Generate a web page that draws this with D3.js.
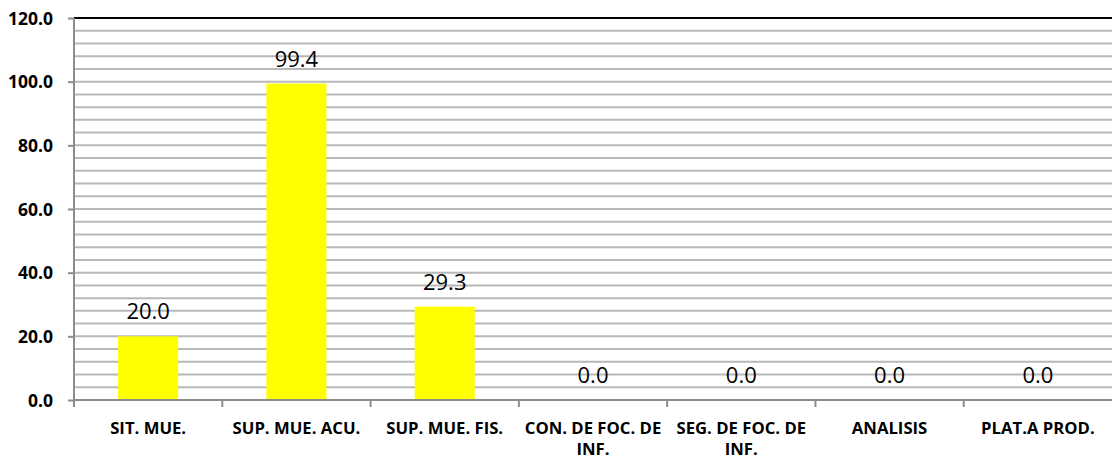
<!DOCTYPE html>
<html><head><meta charset="utf-8">
<script src="https://cdn.jsdelivr.net/npm/d3@7"></script>
<style>body{margin:0;background:#fff;}svg{display:block;}</style>
</head><body>
<script>
const categories = ["SIT. MUE.","SUP. MUE. ACU.","SUP. MUE. FIS.","CON. DE FOC. DE INF.","SEG. DE FOC. DE INF.","ANALISIS","PLAT.A PROD."];
const values = [20.0, 99.4, 29.3, 0.0, 0.0, 0.0, 0.0];
const yTicks = [0,20,40,60,80,100,120];

const W=1112,H=459;
const m={l:74,r:0,t:18,b:59};
const svg=d3.select("body").append("svg").attr("width",W).attr("height",H);
const x=d3.scaleBand().domain(categories).range([m.l,W-m.r]).paddingInner(0).paddingOuter(0);
const y=d3.scaleLinear().domain([0,120]).range([H-m.b,m.t]);
const font="'Open Sans', sans-serif";

// minor gridlines
const grid=d3.range(4,120,4);
svg.append("g").selectAll("line").data(grid).join("line")
 .attr("x1",m.l).attr("x2",W-m.r).attr("y1",d=>y(d)).attr("y2",d=>y(d))
 .attr("stroke","#b8b8b8").attr("stroke-width",2);
// top line
svg.append("line").attr("x1",m.l).attr("x2",W).attr("y1",y(120)).attr("y2",y(120)).attr("stroke","#000").attr("stroke-width",2);

// bars
const bw=x.bandwidth()*0.405;
svg.append("g").selectAll("rect").data(values).join("rect")
 .attr("x",(d,i)=>x(categories[i])+x.bandwidth()/2-bw/2)
 .attr("width",bw)
 .attr("y",d=>y(d)).attr("height",d=>y(0)-y(d))
 .attr("fill","#ffff00");

// data labels
svg.append("g").selectAll("text").data(values).join("text")
 .attr("x",(d,i)=>x(categories[i])+x.bandwidth()/2)
 .attr("y",d=>y(d)-17)
 .attr("text-anchor","middle").attr("font-family",font).attr("font-size",22).attr("fill","#000")
 .text(d=>d.toFixed(1));

// y axis
const ya=svg.append("g").attr("transform",`translate(${m.l},0)`)
 .call(d3.axisLeft(y).tickValues(yTicks).tickSize(6).tickFormat(d=>d.toFixed(1)));
ya.select(".domain").attr("stroke","#8c8c8c").attr("stroke-width",2).attr("d",`M-0,${y(120)}V${y(0)}`);
ya.selectAll(".tick line").attr("stroke","#8c8c8c").attr("stroke-width",2);
ya.selectAll(".tick text").attr("font-family",font).attr("font-weight","bold").attr("font-size",17.5).attr("fill","#000").attr("x",-21).attr("dy","0.35em");

// x axis
const xa=svg.append("g").attr("transform",`translate(0,${y(0)})`)
 .call(d3.axisBottom(x).tickSize(0).tickFormat(""));
xa.select(".domain").attr("stroke","#8c8c8c").attr("stroke-width",2).attr("d",`M${m.l},0H${W}`);
const bounds=[...categories.map(c=>x(c))];
xa.append("g").selectAll("line").data(bounds).join("line")
 .attr("x1",d=>d).attr("x2",d=>d).attr("y1",0).attr("y2",7).attr("stroke","#8c8c8c").attr("stroke-width",2);

// x labels with wrapping
const lab=svg.append("g").selectAll("text").data(categories).join("text")
 .attr("x",d=>x(d)+x.bandwidth()/2).attr("y",434)
 .attr("text-anchor","middle").attr("font-family",font).attr("font-weight","bold").attr("font-size",16.7).attr("fill","#000");
lab.each(function(d){
  const t=d3.select(this); const words=d.split(" "); let line=[];
  const maxW=x.bandwidth()+8;
  let ts=t.append("tspan").attr("x",x(d)+x.bandwidth()/2);
  for(const w of words){
    line.push(w); ts.text(line.join(" "));
    if(ts.node().getComputedTextLength()>maxW && line.length>1){
      line.pop(); ts.text(line.join(" ")); line=[w];
      ts=t.append("tspan").attr("x",x(d)+x.bandwidth()/2).attr("dy",21).text(w);
    }
  }
});
</script>
</body></html>
